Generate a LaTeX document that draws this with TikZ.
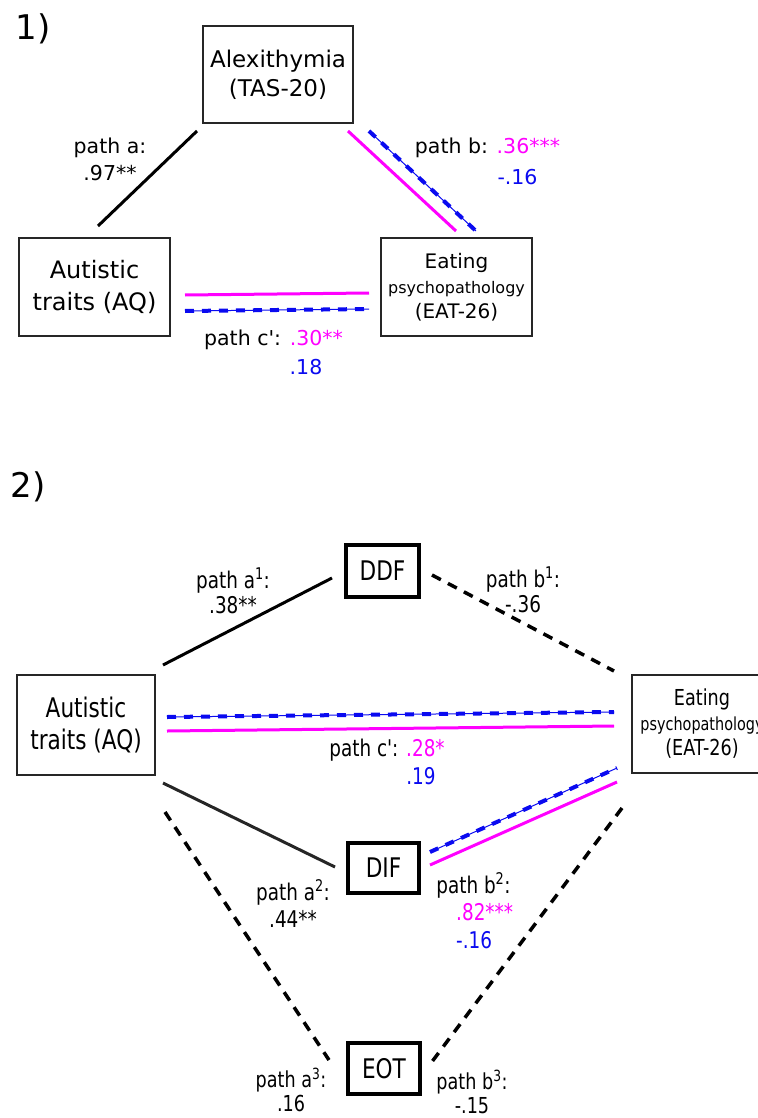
\documentclass[tikz,border=0pt]{standalone}
\usepackage{fontspec}
\setmainfont{DejaVu Sans}
\newfontfamily\widefont{DejaVu Sans}
\newfontfamily\narrowfont[FakeStretch=0.8]{DejaVu Sans}
\usetikzlibrary{calc}
\definecolor{magcol}{RGB}{255,0,255}
\definecolor{bluecol}{RGB}{10,10,240}
\tikzset{box/.style={draw=black!85, line width=2pt, inner sep=0pt, align=center}}
\tikzset{medbox/.style={draw, line width=3.5pt, inner sep=0pt, align=center}}
\tikzset{lbl/.style={inner sep=0pt, align=center}}
\tikzset{solidpath/.style={line width=3pt}}
\tikzset{magpath/.style={magcol, line width=3pt}}
\tikzset{dashpath/.style={line width=3.5pt, dash pattern=on 10pt off 8pt}}
\tikzset{bluepath/.style={bluecol, line width=4pt, dash pattern=on 9pt off 8pt,
    postaction={draw=bluecol, line width=1pt, solid}}}

\begin{document}
\begin{tikzpicture}[x=1pt, y=-1pt]
                    \useasboundingbox (0,0) rectangle (757,1118);

                    % 1) single mediator
                    \node[lbl, font=\widefont\fontsize{34}{40}\selectfont] (one) at (33,29) {1)};
                    \node[box, minimum width=150pt, minimum height=97pt, font=\widefont\fontsize{23}{29}\selectfont] (alex) at (278,74.5) {Alexithymia\\(TAS-20)};
                    \node[box, minimum width=151pt, minimum height=98pt, font=\widefont\fontsize{24}{32}\selectfont] (aq) at (94.5,287) {Autistic\\traits (AQ)};
                    \node[box, minimum width=151pt, minimum height=98pt, font=\widefont\fontsize{20}{25}\selectfont] (eat) at (456.5,287) {Eating\\{\fontsize{16}{25}\selectfont psychopathology}\\(EAT-26)};

                    \coordinate (as) at (197,131);
                    \coordinate (ae) at (98,226);
                    \coordinate (bms) at (348,131);
                    \coordinate (bme) at (456,231);
                    \coordinate (bbs) at (369,131);
                    \coordinate (bbe) at (476,231);
                    \coordinate (cms) at (185,295);
                    \coordinate (cme) at (369,293);
                    \coordinate (cbs) at (185,311);
                    \coordinate (cbe) at (369,309);

                    \draw[solidpath] (as) -- (ae);
                    \draw[magpath] (bms) -- (bme);
                    \draw[bluepath] (bbs) -- (bbe);
                    \draw[magpath] (cms) -- (cme);
                    \draw[bluepath] (cbs) -- (cbe);

                    \node[lbl, font=\widefont\fontsize{20.5}{27}\selectfont] (pa) at (110,159.5) {path a:\\.97**};
                    \node[lbl, font=\widefont\fontsize{20.5}{27}\selectfont] (pb) at (487.5,148) {path b: \textcolor{magcol}{.36***}};
                    \node[lbl, font=\widefont\fontsize{20.5}{27}\selectfont, text=bluecol] (pbv) at (517.5,177) {-.16};
                    \node[lbl, font=\widefont\fontsize{20.5}{27}\selectfont] (pc) at (273.5,340) {path c': \textcolor{magcol}{.30**}};
                    \node[lbl, font=\widefont\fontsize{20.5}{27}\selectfont, text=bluecol] (pcv) at (306,367) {.18};

                    % 2) three mediators
                    \node[lbl, font=\widefont\fontsize{34}{40}\selectfont] (two) at (28,487) {2)};
                    \node[box, minimum width=138pt, minimum height=100pt, font=\narrowfont\fontsize{27}{32}\selectfont] (aqb) at (86,725) {Autistic\\traits (AQ)};
                    \node[box, minimum width=140pt, minimum height=98pt, font=\narrowfont\fontsize{22}{25}\selectfont] (eatb) at (702,724) {Eating\\{\fontsize{18}{25}\selectfont psychopathology}\\(EAT-26)};
                    \node[medbox, minimum width=73pt, minimum height=52pt, font=\narrowfont\fontsize{27}{32}\selectfont] (ddf) at (382.5,571) {DDF};
                    \node[medbox, minimum width=71pt, minimum height=50pt, font=\narrowfont\fontsize{27}{32}\selectfont] (dif) at (383.5,868) {DIF};
                    \node[medbox, minimum width=72pt, minimum height=51pt, font=\narrowfont\fontsize{27}{32}\selectfont] (eot) at (384,1068.5) {EOT};

                    \coordinate (a1s) at (163,665);
                    \coordinate (a1e) at (332,578);
                    \coordinate (b1s) at (432,575);
                    \coordinate (b1e) at (614,671);
                    \coordinate (cbs2) at (167,717);
                    \coordinate (cbe2) at (614,712);
                    \coordinate (cms2) at (167,731);
                    \coordinate (cme2) at (614,726);
                    \coordinate (a2s) at (163,783);
                    \coordinate (a2e) at (335,867);
                    \coordinate (b2bs) at (430,852);
                    \coordinate (b2be) at (617,768);
                    \coordinate (b2ms) at (430,865);
                    \coordinate (b2me) at (617,782);
                    \coordinate (a3s) at (165,812);
                    \coordinate (a3e) at (329,1060);
                    \coordinate (b3s) at (622,808);
                    \coordinate (b3e) at (431,1063);

                    \draw[solidpath] (a1s) -- (a1e);
                    \draw[dashpath] (b1s) -- (b1e);
                    \draw[bluepath] (cbs2) -- (cbe2);
                    \draw[magpath] (cms2) -- (cme2);
                    \draw[solidpath, black!85] (a2s) -- (a2e);
                    \draw[bluepath] (b2bs) -- (b2be);
                    \draw[magpath] (b2ms) -- (b2me);
                    \draw[dashpath] (a3s) -- (a3e);
                    \draw[dashpath] (b3s) -- (b3e);

                    \node[lbl, font=\narrowfont\fontsize{23}{25}\selectfont] (pa1) at (233,591) {path a\textsuperscript{1}:\\.38**};
                    \node[lbl, font=\narrowfont\fontsize{23}{25}\selectfont] (pb1) at (523,590) {path b\textsuperscript{1}:\\-.36};
                    \node[lbl, font=\narrowfont\fontsize{23}{25}\selectfont] (pc2) at (387,750) {path c': \textcolor{magcol}{.28*}};
                    \node[lbl, font=\narrowfont\fontsize{23}{25}\selectfont, text=bluecol] (pc2v) at (421,776) {.19};
                    \node[lbl, font=\narrowfont\fontsize{23}{27}\selectfont] (pa2) at (293,903.5) {path a\textsuperscript{2}:\\.44**};
                    \node[lbl, font=\narrowfont\fontsize{23}{25}\selectfont] (pb2) at (473.5,885) {path b\textsuperscript{2}:};
                    \node[lbl, font=\narrowfont\fontsize{23}{25}\selectfont, text=magcol, anchor=west] (pb2m) at (456,912) {.82***};
                    \node[lbl, font=\narrowfont\fontsize{23}{25}\selectfont, text=bluecol, anchor=west] (pb2b) at (456,940) {-.16};
                    \node[lbl, font=\narrowfont\fontsize{22}{24}\selectfont] (pa3) at (291,1090) {path a\textsuperscript{3}:\\.16};
                    \node[lbl, font=\narrowfont\fontsize{22}{24}\selectfont] (pb3) at (472,1092) {path b\textsuperscript{3}:\\-.15};
                \end{tikzpicture}
\end{document}
